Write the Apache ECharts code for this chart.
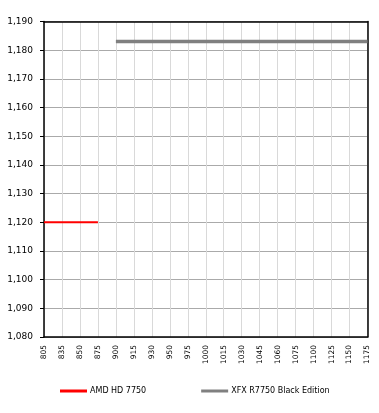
<!DOCTYPE html>
<html><head><meta charset="utf-8">
<script src="https://cdn.jsdelivr.net/npm/echarts@6/dist/echarts.min.js"></script>
<style>html,body{margin:0;padding:0;background:#fff}#c{width:379px;height:413px}</style>
</head><body><div id="c"></div>
<script>
const categories = ['805','835','850','875','900','915','930','950','975','1000','1015','1030','1045','1060','1075','1100','1125','1150','1175'];
const amdValues = [1120,1120,1120,1120,null,null,null,null,null,null,null,null,null,null,null,null,null,null,null];
const xfxValues = [null,null,null,null,1183,1183,1183,1183,1183,1183,1183,1183,1183,1183,1183,1183,1183,1183,1183];
const seriesNames = ['AMD HD 7750','XFX R7750 Black Edition'];
const yMin = 1080, yMax = 1190, yStep = 10;

const FONT = '"DejaVu Sans",sans-serif';
const chart = echarts.init(document.getElementById('c'), null, {renderer:'canvas'});
chart.setOption({
  animation:false,
  backgroundColor:'#fff',
  grid:{left:44,right:11.5,top:21.5,bottom:76},
  xAxis:[{
    type:'category', data:categories, boundaryGap:false,
    axisLine:{lineStyle:{color:'#000',width:1.5}},
    axisTick:{show:false},
    axisLabel:{rotate:90,fontSize:7.5,fontFamily:FONT,color:'#000',margin:8,interval:0},
    splitLine:{show:true,lineStyle:{color:'#d9d9d9',width:1}}
  },{
    type:'category', data:categories, boundaryGap:false, position:'top',
    axisLine:{show:true,lineStyle:{color:'#000',width:1.5}},
    axisTick:{show:false}, axisLabel:{show:false}, splitLine:{show:false}
  }],
  yAxis:[{
    type:'value', min:yMin, max:yMax, interval:yStep,
    axisLine:{show:true,lineStyle:{color:'#000',width:1.5}},
    axisTick:{show:true,length:4,inside:false,lineStyle:{color:'#000'}},
    axisLabel:{fontSize:9,fontFamily:FONT,color:'#000',margin:11,
      formatter:v=>v.toLocaleString('en-US')},
    splitLine:{show:true,lineStyle:{color:'#aaaaaa',width:1}}
  },{
    type:'value', min:yMin, max:yMax, interval:yStep, position:'right',
    axisLine:{show:true,lineStyle:{color:'#000',width:1.5}},
    axisTick:{show:false}, axisLabel:{show:false}, splitLine:{show:false}
  }],
  legend:{
    left:55, top:382, itemGap:55, itemWidth:27, itemHeight:3, icon:'rect',
    textStyle:{fontSize:8,fontFamily:FONT,color:'#000',padding:[0,0,0,-2]},
    data:[
      {name:seriesNames[0],itemStyle:{color:'#ff0000'}},
      {name:seriesNames[1],itemStyle:{color:'#808080'}}
    ]
  },
  series:[
    {name:seriesNames[0],type:'line',data:amdValues,showSymbol:false,symbol:'none',
      lineStyle:{color:'#ff0000',width:2},itemStyle:{color:'#ff0000'},connectNulls:false},
    {name:seriesNames[1],type:'line',data:xfxValues,showSymbol:false,symbol:'none',
      lineStyle:{color:'#808080',width:3.5},itemStyle:{color:'#808080'},connectNulls:false}
  ]
});
</script></body></html>
